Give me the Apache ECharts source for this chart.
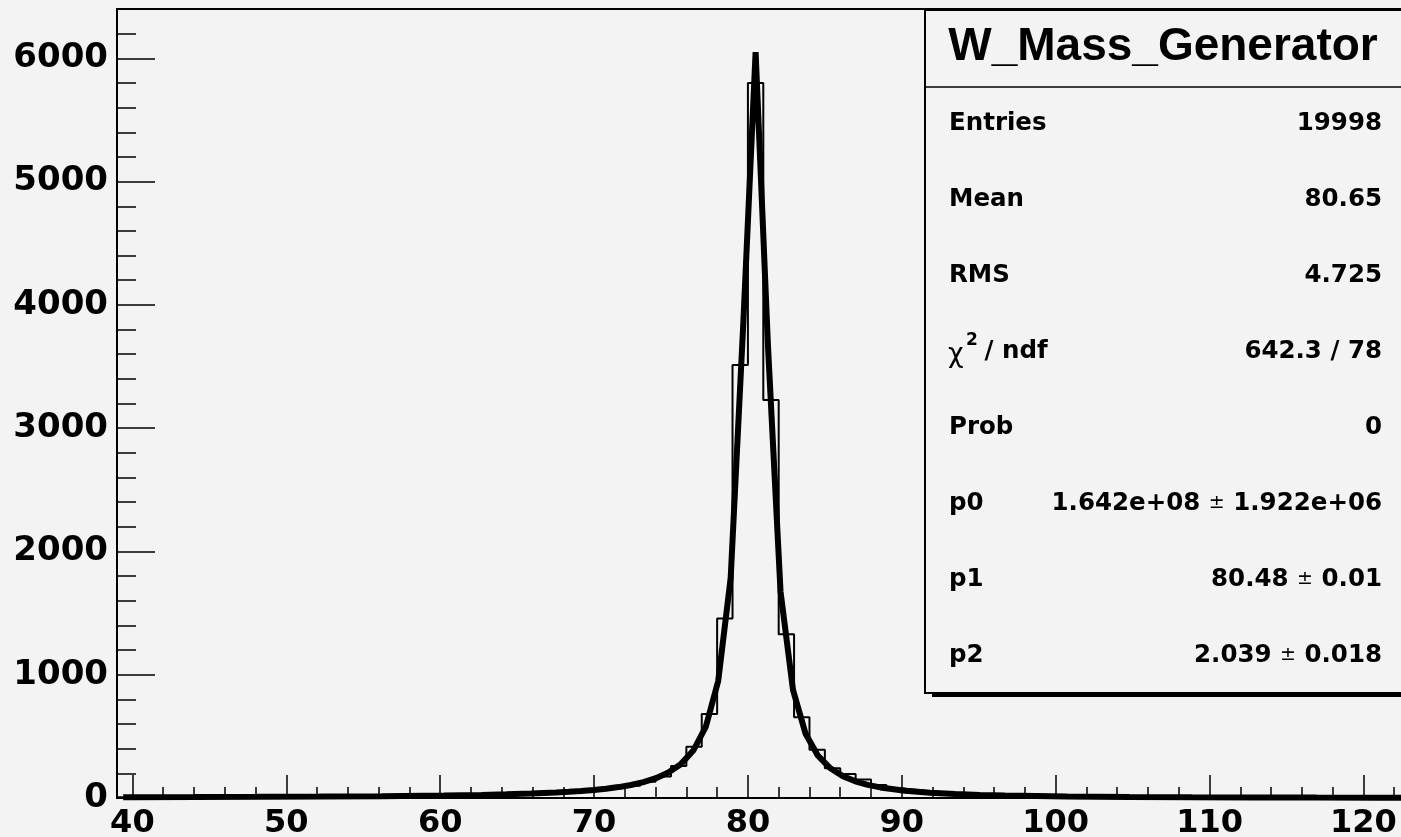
<!DOCTYPE html>
<html><head><meta charset="utf-8">
<script src="https://cdn.jsdelivr.net/npm/echarts@6/dist/echarts.min.js"></script>
<style>html,body{margin:0;padding:0;background:#f3f3f3;overflow:hidden}#c{width:1401px;height:837px}</style>
</head><body><div id="c"></div>
<script>
// ---- data ----
const histLowEdge = 39;
const histBinWidth = 1;
const histCounts = [
  6, 7, 7, 8, 8, 8, 9, 9, 9, 10,
  10, 11, 12, 12, 13, 14, 15, 16, 17, 18,
  20, 21, 23, 25, 28, 31, 34, 38, 43, 50,
  58, 68, 82, 100, 132, 175, 260, 416, 681, 1457,
  3512, 5800, 3228, 1328, 656, 392, 241, 195, 150, 105,
  80, 65, 52, 45, 38, 32, 28, 24, 21, 19,
  17, 15, 13, 12, 11, 10, 9, 8, 8, 7,
  7, 6, 6, 5, 5, 5, 4, 4, 4, 4,
  3, 3, 3, 3
];
const fitX = [39.4, 40, 44.05, 48.1, 52.15, 56.2, 60.25, 62.68, 64.3, 65.92, 67.54, 68.35, 69.16, 69.97, 70.78, 71.59,
  72.4, 73.21, 74.02, 74.83, 75.64, 76.45, 77.26, 78.07, 78.88, 79.69, 80.5, 81.31, 82.12, 82.93, 83.74,
  84.55, 85.36, 86.17, 86.98, 87.79, 88.6, 90.22, 91.84, 93.46, 95.08, 96.7, 100.75, 104.8, 108.85, 112.9, 116.95, 121, 123];
const fitY = [6.8, 6.9, 8.0, 9.5, 11.6, 14.9, 20.2, 25.2, 29.8, 36.0, 44.4, 50.0, 56.7, 65.0, 75.3, 88.5,
  105.8, 128.8, 160.5, 206.0, 274.6, 384.7, 576.4, 949.5, 1786, 3825, 6050, 3652, 1675, 877, 523.6,
  343.4, 240.8, 177.3, 135.5, 106.6, 85.9, 58.8, 42.5, 32.2, 25.0, 19.8, 12.2, 8.1, 5.7, 4.2, 3.2, 2.5, 2.2];
const xMajorTicks = [40, 50, 60, 70, 80, 90, 100, 110, 120];
const xMinorTicks = [40, 42, 44, 46, 48, 50, 52, 54, 56, 58, 60, 62, 64, 66, 68, 70, 72, 74, 76, 78, 80,
  82, 84, 86, 88, 90, 92, 94, 96, 98, 100, 102, 104, 106, 108, 110, 112, 114, 116, 118, 120, 122];
const yMajorTicks = [0, 1000, 2000, 3000, 4000, 5000, 6000];
const yMinorTicks = [0, 200, 400, 600, 800, 1000, 1200, 1400, 1600, 1800, 2000, 2200, 2400, 2600, 2800, 3000,
  3200, 3400, 3600, 3800, 4000, 4200, 4400, 4600, 4800, 5000, 5200, 5400, 5600, 5800, 6000, 6200];
const statTitle = 'W_Mass_Generator';
const statNames = ['Entries', 'Mean', 'RMS', 'CHI2', 'Prob', 'p0', 'p1', 'p2'];
const statValues = ['19998', '80.65', '4.725', '642.3 / 78', '0',
  '1.642e+08 {pm|±} 1.922e+06', '80.48 {pm|±} 0.01', '2.039 {pm|±} 0.018'];

// ---- chart ----
const BG = '#f3f3f3';
const histData = histCounts.map((v, i) => [histLowEdge + i * histBinWidth, v]);
histData.push([histLowEdge + histCounts.length * histBinWidth, histCounts[histCounts.length - 1]]);
const fitData = fitX.map((x, i) => [x, fitY[i]]);

const FONT = 'DejaVu Sans';
const tickStyle = { color: '#000', width: 1.5 };
const graphics = [
  { type: 'rect', z: 100, shape: { x: 932, y: 13, width: 480, height: 684 }, style: { fill: '#000' } },
  { type: 'rect', z: 101, shape: { x: 925, y: 10, width: 480, height: 683 }, style: { fill: BG, stroke: '#000', lineWidth: 2 } },
  { type: 'line', z: 102, shape: { x1: 925, y1: 87, x2: 1405, y2: 87 }, style: { stroke: '#000', lineWidth: 1.5 } },
  { type: 'text', z: 103, x: 1163, y: 47, style: { text: statTitle, fill: '#000', fontFamily: 'Liberation Sans', fontWeight: 'bold', fontSize: 46, align: 'center', verticalAlign: 'middle' } }
];
const rowY0 = 124, rowDY = 75.9;
statNames.forEach((n, i) => {
  const y = rowY0 + rowDY * i;
  if (n === 'CHI2') {
    graphics.push({ type: 'text', z: 103, x: 948, y: y + 3, style: { text: 'χ', fill: '#000', fontFamily: FONT, fontSize: 27, align: 'left', verticalAlign: 'middle' } });
    graphics.push({ type: 'text', z: 103, x: 966, y: y - 11, style: { text: '2', fill: '#000', fontFamily: FONT, fontWeight: 'bold', fontSize: 17, align: 'left', verticalAlign: 'middle' } });
    graphics.push({ type: 'text', z: 103, x: 976, y: y, style: { text: ' / ndf', fill: '#000', fontFamily: FONT, fontWeight: 'bold', fontSize: 24.5, align: 'left', verticalAlign: 'middle' } });
  } else {
    graphics.push({ type: 'text', z: 103, x: 949, y: y, style: { text: n, fill: '#000', fontFamily: FONT, fontWeight: 'bold', fontSize: 24.5, align: 'left', verticalAlign: 'middle' } });
  }
  graphics.push({ type: 'text', z: 103, x: 1382, y: y, style: {
    text: statValues[i], fill: '#000', fontFamily: FONT, fontWeight: 'bold', fontSize: 24.5, align: 'right', verticalAlign: 'middle',
    rich: { pm: { fontFamily: FONT, fontWeight: 'normal', fontSize: 19, fill: '#000' } }
  } });
});

const chart = echarts.init(document.getElementById('c'), null, { renderer: 'canvas' });
chart.setOption({
  backgroundColor: BG,
  animation: false,
  grid: { left: 117, top: 9, width: 1292.6, height: 789, show: true, borderColor: '#000', borderWidth: 2,
          backgroundColor: 'transparent', containLabel: false, outerBoundsMode: 'none' },
  xAxis: [
    { type: 'value', min: 39, max: 123, position: 'bottom', offset: 0,
      axisLine: { show: false }, splitLine: { show: false },
      axisTick: { show: true, inside: true, length: 23, customValues: xMajorTicks, lineStyle: tickStyle },
      axisLabel: { customValues: xMajorTicks, margin: 10, color: '#000', fontFamily: FONT, fontWeight: 'bold', fontSize: 32,
                   formatter: v => String(v) } },
    { type: 'value', min: 39, max: 123, position: 'bottom', offset: 0,
      axisLine: { show: false }, splitLine: { show: false },
      axisTick: { show: true, inside: true, length: 11, customValues: xMinorTicks, lineStyle: tickStyle },
      axisLabel: { show: false } }
  ],
  yAxis: [
    { type: 'value', min: 0, max: 6400, position: 'left', offset: 0,
      axisLine: { show: false }, splitLine: { show: false },
      axisTick: { show: true, inside: true, length: 38, customValues: yMajorTicks, lineStyle: tickStyle },
      axisLabel: { customValues: yMajorTicks, margin: 9, color: '#000', fontFamily: FONT, fontWeight: 'bold', fontSize: 34,
                   formatter: v => String(v) } },
    { type: 'value', min: 0, max: 6400, position: 'left', offset: 0,
      axisLine: { show: false }, splitLine: { show: false },
      axisTick: { show: true, inside: true, length: 19, customValues: yMinorTicks, lineStyle: tickStyle },
      axisLabel: { show: false } }
  ],
  series: [
    { type: 'line', xAxisIndex: 0, yAxisIndex: 0, data: histData, step: 'end', symbol: 'none', silent: true, z: 2,
      lineStyle: { color: '#000', width: 2 } },
    { type: 'line', xAxisIndex: 0, yAxisIndex: 0, data: fitData, symbol: 'none', silent: true, z: 3,
      lineStyle: { color: '#000', width: 6, join: 'bevel' } }
  ],
  graphic: graphics
});
</script></body></html>
